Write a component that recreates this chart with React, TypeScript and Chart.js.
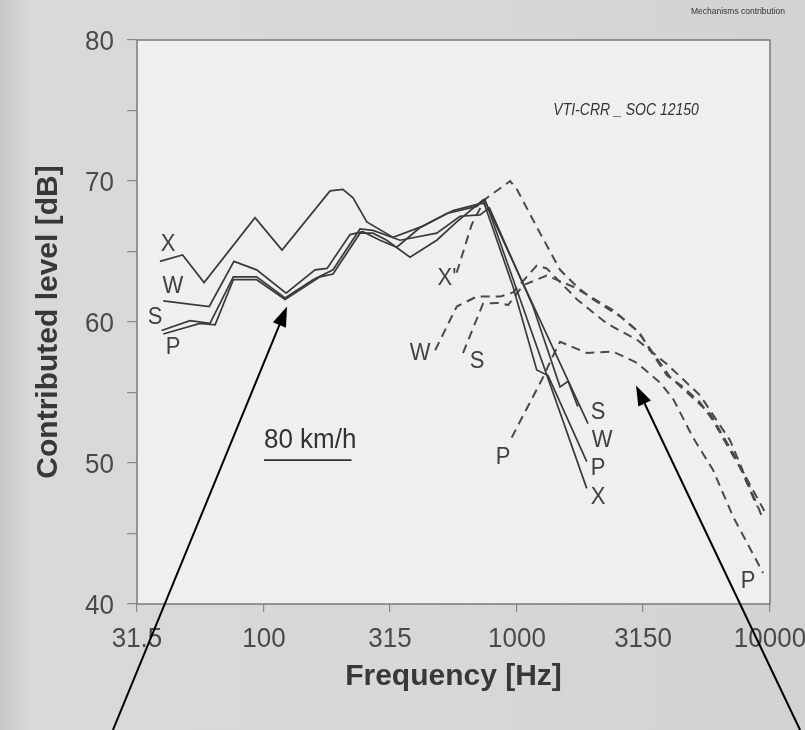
import React, { useEffect, useRef } from 'react';
import { Chart, registerables } from 'chart.js';

Chart.register(...registerables);

// ---- axis ticks ----
const X_TICKS = [31.5, 100, 315, 1000, 3150, 10000];
const X_TICK_LABELS = ['31.5', '100', '315', '1000', '3150', '10000'];
const Y_LABEL_TICKS = [40, 50, 60, 70, 80];

// ---- solid curves (frequency Hz / level dB) ----
const SOLID_X_F = [38.8, 47.7, 58, 92.2, 117.9, 182.5, 205, 225, 255, 324, 425, 528, 693, 747, 1887];
const SOLID_X_DB = [64.3, 64.75, 62.8, 67.4, 65.1, 69.3, 69.4, 68.8, 67.1, 66.0, 66.8, 67.7, 68.2, 68.7, 48.2];

const SOLID_W_F = [40, 60.8, 76.1, 93.6, 122.3, 159.2, 177.6, 218.9, 246, 287.6, 334.8, 414, 559, 714.5, 755, 1909];
const SOLID_W_DB = [61.5, 61.1, 64.3, 63.7, 62.05, 63.7, 63.8, 66.2, 66.4, 65.8, 65.3, 66.7, 67.9, 68.4, 68.4, 52.8];

const SOLID_S_F = [39.4, 51, 61.2, 75.7, 93.6, 121.2, 156.3, 187.5, 239.7, 269.9, 345, 481.8, 595.7, 714.5, 778, 1157, 1480, 1592, 1740];
const SOLID_S_DB = [59.4, 60.1, 59.9, 63.2, 63.2, 61.7, 63.0, 63.7, 66.6, 66.5, 65.8, 66.3, 67.5, 67.6, 68.1, 61.1, 55.4, 55.8, 54.0];

const SOLID_P_F = [40, 55.9, 64.1, 75.7, 93.6, 121.2, 166.6, 187.5, 239.7, 269.9, 305.7, 377.8, 481.8, 578, 734, 965, 1197, 1327, 1887];
const SOLID_P_DB = [59.15, 59.9, 59.8, 63.0, 63.0, 61.6, 63.2, 63.4, 66.3, 66.3, 65.8, 64.6, 65.8, 67.1, 68.65, 62.5, 56.6, 56.2, 50.1];

// ---- dashed curves ----
const DASH_X_F = [578, 662, 747, 940, 1000, 1234, 1480, 1728, 2000, 2555, 3064, 3357, 3920, 4532, 5290, 5957, 7000, 8200, 9500];
const DASH_X_DB = [63.5, 66.9, 68.7, 70.0, 69.4, 66.3, 63.7, 62.5, 61.6, 60.4, 59.2, 58.0, 56.2, 55.4, 54.3, 53.0, 50.8, 48.7, 46.6];

const DASH_W_F = [475, 578, 693, 857, 965, 1197, 1311, 1728, 2263, 3000, 3920, 5290, 6956, 9400];
const DASH_W_DB = [58.0, 61.1, 61.8, 61.8, 62.1, 64.0, 63.8, 61.6, 59.9, 58.7, 57.0, 54.8, 51.6, 46.0];

const DASH_S_F = [612, 734, 843, 922, 1057, 1311, 1666, 1945, 2397, 2983, 4027, 5798, 7409, 8900];
const DASH_S_DB = [57.8, 61.3, 61.35, 61.2, 62.6, 63.3, 62.5, 61.8, 60.85, 59.4, 56.1, 53.5, 50.2, 46.9];

const DASH_P_F = [953, 1253, 1414, 1480, 1892, 2397, 2983, 3678, 4154, 4965, 5957, 7145, 9390];
const DASH_P_DB = [51.8, 55.9, 57.9, 58.6, 57.8, 57.9, 57.1, 55.7, 54.5, 51.8, 49.5, 46.2, 42.2];

// ---- curve letter labels (text, frequency, level) ----
const LABEL_TEXT = ['X', 'W', 'S', 'P', 'S', 'W', 'P', 'X', "X'", 'W', 'S', 'P', 'P'];
const LABEL_F = [41.8, 43.7, 37.1, 43.7, 2092, 2169, 2092, 2092, 529, 414, 695, 881, 8192];
const LABEL_DB = [65.5, 62.5, 60.3, 58.2, 53.6, 51.6, 49.6, 47.6, 63.1, 57.8, 57.2, 50.4, 41.6];

// ---- annotation arrows (tail -> tip) ----
const ARROW_TAIL_F = [25.3, 13150];
const ARROW_TAIL_DB = [31.06, 31.06];
const ARROW_TIP_F = [123.4, 2955];
const ARROW_TIP_DB = [61.1, 55.5];

const SOLID_COLOR = '#3a3a3a';
const DASH_COLOR = '#4a4a4a';
const FONT = '"Liberation Sans", Arial, Helvetica, sans-serif';

const pts = (f: number[], db: number[]) => f.map((v, i) => ({ x: v, y: db[i] }));

function sText(
  ctx: CanvasRenderingContext2D,
  text: string,
  x: number,
  y: number,
  size: number,
  o: { weight?: string; style?: string; color?: string; align?: CanvasTextAlign; sx?: number; sy?: number; rot?: number } = {}
) {
  ctx.save();
  ctx.translate(x, y);
  if (o.rot) ctx.rotate(o.rot);
  ctx.scale(o.sx ?? 1, o.sy ?? 1);
  ctx.font = `${o.style ?? 'normal'} ${o.weight ?? 'normal'} ${size}px ${FONT}`;
  ctx.fillStyle = o.color ?? '#333';
  ctx.textAlign = o.align ?? 'center';
  ctx.textBaseline = 'middle';
  ctx.fillText(text, 0, 0);
  ctx.restore();
}

const decorPlugin = {
  id: 'decor',
  beforeDraw(chart: any) {
    const { ctx, chartArea: a, width, height } = chart;
    ctx.save();
    const g = ctx.createLinearGradient(0, 0, width, 0);
    g.addColorStop(0, '#c6c6c6');
    g.addColorStop(0.035, '#d9d9d9');
    g.addColorStop(0.6, '#d7d7d7');
    g.addColorStop(1, '#d2d2d2');
    ctx.fillStyle = g;
    ctx.fillRect(0, 0, width, height);
    ctx.fillStyle = '#efefef';
    ctx.fillRect(a.left, a.top, a.right - a.left, a.bottom - a.top);
    ctx.restore();
  },
  afterDraw(chart: any) {
    const { ctx, chartArea: a, width } = chart;
    const xs = chart.scales.x;
    const ys = chart.scales.y;
    ctx.save();
    // plot frame
    ctx.strokeStyle = '#7a7a7a';
    ctx.lineWidth = 1.5;
    ctx.strokeRect(a.left, a.top, a.right - a.left, a.bottom - a.top);

    // tick labels
    X_TICKS.forEach((v, i) => {
      sText(ctx, X_TICK_LABELS[i], xs.getPixelForValue(v), a.bottom + 35, 26, { color: '#4a4a4a', sy: 1.05 });
    });
    Y_LABEL_TICKS.forEach((v) => {
      sText(ctx, String(v), a.left - 23, ys.getPixelForValue(v) + 2, 26, { color: '#4a4a4a', sy: 1.05, align: 'right' });
    });

    // axis titles
    sText(ctx, 'Frequency [Hz]', (a.left + a.right) / 2, a.bottom + 73, 30, { weight: 'bold', color: '#383838' });
    sText(ctx, 'Contributed level [dB]', a.left - 88, (a.top + a.bottom) / 2, 30, {
      weight: 'bold',
      color: '#383838',
      rot: -Math.PI / 2,
    });

    // curve labels
    LABEL_TEXT.forEach((t, i) => {
      sText(ctx, t, xs.getPixelForValue(LABEL_F[i]), ys.getPixelForValue(LABEL_DB[i]), 22, { color: '#404040', sy: 1.1 });
    });

    // speed label with underline
    ctx.strokeStyle = '#333';
    ctx.lineWidth = 1.8;
    const ux0 = xs.getPixelForValue(100);
    const ux1 = xs.getPixelForValue(222);
    sText(ctx, '80 km/h', ux0, ys.getPixelForValue(51.6), 26, { color: '#333', align: 'left', sy: 1.05 });
    ctx.beginPath();
    ctx.moveTo(ux0, ys.getPixelForValue(50.2));
    ctx.lineTo(ux1, ys.getPixelForValue(50.2));
    ctx.stroke();

    // reference code
    sText(ctx, 'VTI-CRR _ SOC 12150', xs.getPixelForValue(2699), ys.getPixelForValue(75.0), 14, {
      style: 'italic',
      color: '#333',
      sy: 1.15,
    });

    // header
    sText(ctx, 'Mechanisms contribution', width - 20, 11, 8.5, { color: '#333', align: 'right', sy: 1.15 });

    // arrows
    ctx.fillStyle = '#000';
    ctx.strokeStyle = '#000';
    ctx.lineWidth = 2;
    ARROW_TIP_F.forEach((_, i) => {
      const x0 = xs.getPixelForValue(ARROW_TAIL_F[i]);
      const y0 = ys.getPixelForValue(ARROW_TAIL_DB[i]);
      const x1 = xs.getPixelForValue(ARROW_TIP_F[i]);
      const y1 = ys.getPixelForValue(ARROW_TIP_DB[i]);
      const ang = Math.atan2(y1 - y0, x1 - x0);
      const hl = 20;
      const hw = 7;
      const bx = x1 - hl * Math.cos(ang);
      const by = y1 - hl * Math.sin(ang);
      ctx.beginPath();
      ctx.moveTo(x0, y0);
      ctx.lineTo(bx, by);
      ctx.stroke();
      ctx.beginPath();
      ctx.moveTo(x1, y1);
      ctx.lineTo(bx + hw * Math.sin(ang), by - hw * Math.cos(ang));
      ctx.lineTo(bx - hw * Math.sin(ang), by + hw * Math.cos(ang));
      ctx.closePath();
      ctx.fill();
    });
    ctx.restore();
  },
};

export default function App() {
  const ref = useRef<HTMLCanvasElement | null>(null);

  useEffect(() => {
    if (!ref.current) return;
    const solid = (label: string, data: any) => ({
      label,
      data,
      borderColor: SOLID_COLOR,
      borderWidth: 1.7,
      pointRadius: 0,
      tension: 0,
      fill: false,
    });
    const dashed = (label: string, data: any) => ({
      label,
      data,
      borderColor: DASH_COLOR,
      borderWidth: 2,
      borderDash: [9, 6],
      pointRadius: 0,
      tension: 0,
      fill: false,
    });
    const tickGrid = (len: number) => ({
      display: true,
      drawOnChartArea: false,
      drawTicks: true,
      tickLength: len,
      color: '#8a8a8a',
      lineWidth: 1.2,
    });
    const chart = new Chart(ref.current, {
      type: 'line',
      data: {
        datasets: [
          solid('X', pts(SOLID_X_F, SOLID_X_DB)),
          solid('W', pts(SOLID_W_F, SOLID_W_DB)),
          solid('S', pts(SOLID_S_F, SOLID_S_DB)),
          solid('P', pts(SOLID_P_F, SOLID_P_DB)),
          dashed("X'", pts(DASH_X_F, DASH_X_DB)),
          dashed('W dashed', pts(DASH_W_F, DASH_W_DB)),
          dashed('S dashed', pts(DASH_S_F, DASH_S_DB)),
          dashed('P dashed', pts(DASH_P_F, DASH_P_DB)),
        ] as any,
      },
      options: {
        animation: false,
        responsive: false,
        events: [],
        layout: { padding: { left: 26, right: 35, top: 40, bottom: 40 } },
        plugins: {
          legend: { display: false },
          tooltip: { enabled: false },
          title: { display: false },
        },
        scales: {
          x: {
            type: 'logarithmic',
            min: 31.5,
            max: 10000,
            afterBuildTicks: (s: any) => {
              s.ticks = X_TICKS.map((v) => ({ value: v }));
            },
            afterFit: (s: any) => {
              s.height = 86;
            },
            ticks: { display: false },
            grid: tickGrid(8) as any,
            border: { display: false },
          },
          y: {
            type: 'linear',
            min: 40,
            max: 80,
            afterFit: (s: any) => {
              s.width = 111;
            },
            ticks: { display: false, stepSize: 5 },
            grid: tickGrid(10) as any,
            border: { display: false },
          },
        },
      } as any,
      plugins: [decorPlugin],
    });
    return () => chart.destroy();
  }, []);

  return (
    <div style={{ position: 'fixed', left: 0, top: 0, width: 805, height: 730 }}>
      <canvas ref={ref} width={805} height={730} style={{ display: 'block' }} />
    </div>
  );
}
